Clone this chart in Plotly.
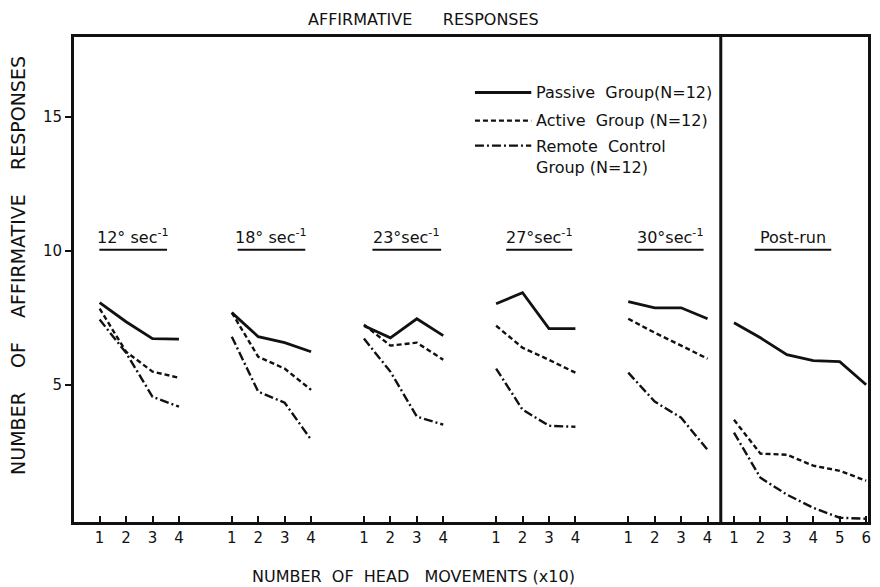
import plotly.graph_objects as go

# ---- data ----
conditions = ["12° sec<sup>-1</sup>", "18° sec<sup>-1</sup>", "23°sec<sup>-1</sup>",
              "27°sec<sup>-1</sup>", "30°sec<sup>-1</sup>", "Post-run"]
movements = [[1, 2, 3, 4], [1, 2, 3, 4], [1, 2, 3, 4], [1, 2, 3, 4], [1, 2, 3, 4],
             [1, 2, 3, 4, 5, 6]]
group_offsets = [0, 5, 10, 15, 20, 24]

passive = [[8.06, 7.35, 6.72, 6.70],
           [7.69, 6.79, 6.57, 6.23],
           [7.20, 6.75, 7.46, 6.83],
           [8.02, 8.43, 7.09, 7.09],
           [8.10, 7.87, 7.87, 7.46],
           [7.31, 6.75, 6.12, 5.90, 5.86, 5.00]]
active = [[7.84, 6.23, 5.49, 5.26],
          [7.69, 6.04, 5.60, 4.81],
          [7.24, 6.46, 6.57, 5.93],
          [7.20, 6.38, 5.93, 5.45],
          [7.46, 6.94, 6.46, 5.97],
          [3.69, 2.43, 2.39, 1.98, 1.79, 1.42]]
remote = [[7.43, 6.19, 4.55, 4.18],
          [6.79, 4.74, 4.33, 2.95],
          [6.72, 5.49, 3.81, 3.51],
          [5.60, 4.07, 3.47, 3.43],
          [5.45, 4.37, 3.77, 2.57],
          [3.21, 1.53, 0.90, 0.41, 0.04, 0.00]]

series_names = ["Passive\u00a0 Group(N=12)", "Active\u00a0 Group (N=12)",
                "Remote\u00a0 Control<br>Group (N=12)"]
y_ticks = [5, 10, 15]

FONT = "DejaVu Sans"
BLACK = "#111111"


def flatten(groups):
    xs, ys = [], []
    for off, mv, vals in zip(group_offsets, movements, groups):
        xs += [off + m for m in mv] + [None]
        ys += list(vals) + [None]
    return xs, ys


styles = [dict(dash="solid", width=2.8),
          dict(dash="5px,3px", width=2.4),
          dict(dash="9px,3px,2px,3px", width=2.4)]

fig = go.Figure()
for name, data, st in zip(series_names, [passive, active, remote], styles):
    xs, ys = flatten(data)
    fig.add_trace(go.Scatter(x=xs, y=ys, mode="lines", name=name.replace("<br>", " "),
                             showlegend=False,
                             line=dict(color=BLACK, width=st["width"], dash=st["dash"])))

# tick positions / labels
tickvals, ticktext = [], []
for off, mv in zip(group_offsets, movements):
    for m in mv:
        tickvals.append(off + m)
        ticktext.append(str(m))

shapes = []
annotations = []

# divider before post-run
shapes.append(dict(type="line", xref="x", yref="paper", x0=24.5, x1=24.5, y0=0, y1=1,
                   line=dict(color=BLACK, width=3)))

# condition labels with underline
label_nudge = [-0.23, 0.0, 0.12, 0.13, 0.1, -0.27]
half_widths = [1.28, 1.28, 1.3, 1.25, 1.25, 1.45]
for off, mv, lab, hw, nd in zip(group_offsets, movements, conditions, half_widths, label_nudge):
    cx = off + (mv[0] + mv[-1]) / 2 + nd
    annotations.append(dict(x=cx, y=10.08, xref="x", yref="y", text=lab, showarrow=False,
                            xanchor="center", yanchor="bottom",
                            font=dict(family=FONT, size=16, color=BLACK)))
    shapes.append(dict(type="line", xref="x", yref="y", x0=cx - hw, x1=cx + hw, y0=10.03, y1=10.03,
                       line=dict(color=BLACK, width=2)))

# manual legend
leg_y = [15.9, 14.85, 13.92]
for name, st, yy in zip(series_names, styles, leg_y):
    shapes.append(dict(type="line", xref="x", yref="y", x0=15.2, x1=17.33, y0=yy, y1=yy,
                       line=dict(color=BLACK, width=st["width"], dash=st["dash"])))
    annotations.append(dict(x=17.45, y=yy, xref="x", yref="y", text=name, showarrow=False,
                            xanchor="left", yanchor="top" if "<br>" in name else "middle",
                            yshift=11 if "<br>" in name else 0, align="left",
                            font=dict(family=FONT, size=16, color=BLACK)))

# titles
annotations.append(dict(x=0.44, y=1.0, xref="paper", yref="paper", yshift=18,
                        text="AFFIRMATIVE" + "\u00a0" * 6 + "RESPONSES", showarrow=False,
                        xanchor="center", yanchor="middle",
                        font=dict(family=FONT, size=16, color=BLACK)))
annotations.append(dict(x=0.428, y=0, xref="paper", yref="paper", yshift=-54,
                        text="NUMBER\u00a0 OF\u00a0 HEAD\u00a0\u00a0 MOVEMENTS (x10)", showarrow=False,
                        xanchor="center", yanchor="middle",
                        font=dict(family=FONT, size=16, color=BLACK)))
gap = "\u00a0" * 4
annotations.append(dict(x=0, y=0.528, xref="paper", yref="paper", xshift=-56,
                        text="NUMBER" + gap + "OF" + gap + "AFFIRMATIVE" + gap + "RESPONSES",
                        showarrow=False,
                        textangle=-90, xanchor="center", yanchor="middle",
                        font=dict(family=FONT, size=19, color=BLACK)))

# the page adds an 8px body margin around the figure
fig.update_layout(
    width=872, height=579,
    margin=dict(l=66, r=9, t=29, b=65),
    paper_bgcolor="white", plot_bgcolor="white",
    showlegend=False,
    shapes=shapes, annotations=annotations,
    xaxis=dict(range=[0.03, 30.07], tickvals=tickvals, ticktext=ticktext,
               ticks="inside", ticklen=6, tickwidth=2, tickcolor=BLACK,
               showline=True, linewidth=3, linecolor=BLACK, mirror=True,
               showgrid=False, zeroline=False,
               tickfont=dict(family=FONT, size=15, color=BLACK)),
    yaxis=dict(range=[-0.12, 17.97], tickvals=y_ticks,
               ticks="outside", ticklen=6, tickwidth=2, tickcolor=BLACK,
               showline=True, linewidth=3, linecolor=BLACK, mirror=True,
               showgrid=False, zeroline=False,
               tickfont=dict(family=FONT, size=15, color=BLACK)),
)

fig.write_html("out.html")
